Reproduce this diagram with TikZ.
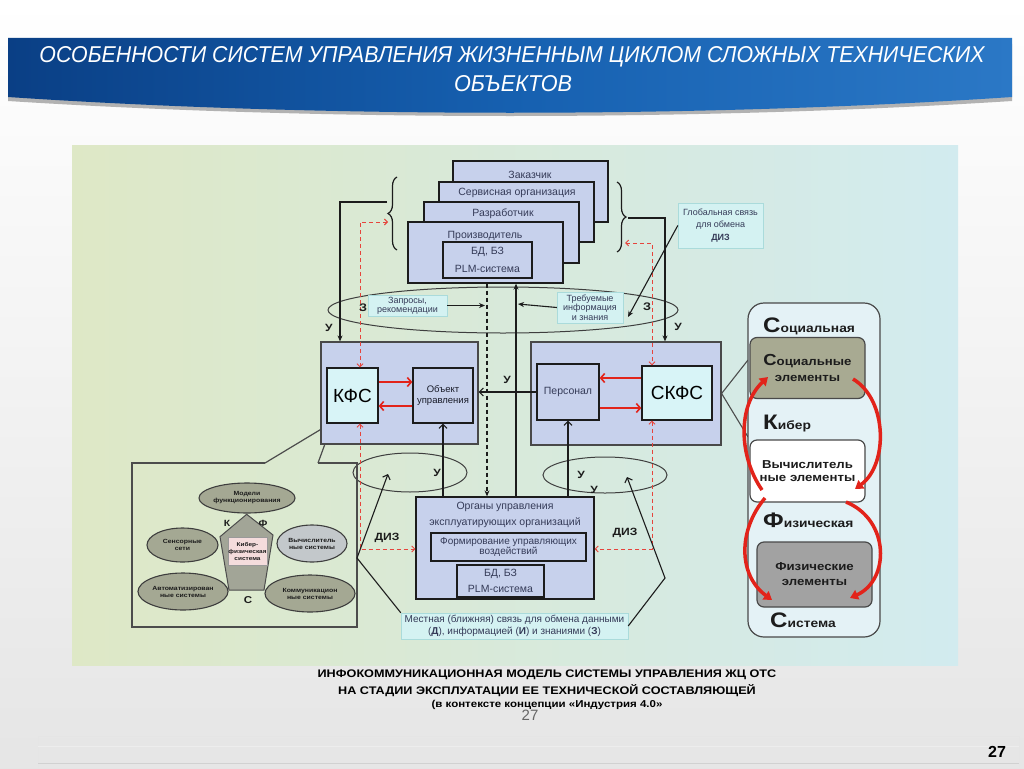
\documentclass[tikz,border=0pt]{standalone}
\usepackage{graphicx}
\usepackage{fontspec}
\setmainfont{Liberation Sans}
\newfontfamily\heavyfont{Liberation Sans}[FakeStretch=1.15]
\usetikzlibrary{arrows.meta,decorations.pathreplacing,shapes.geometric,calc}
\definecolor{boxfill}{HTML}{C7D1EC}
\definecolor{kfsfill}{HTML}{D8F4F7}
\definecolor{lblfill}{HTML}{D4F2F2}
\definecolor{txtc}{HTML}{353B58}
\definecolor{ellfill}{HTML}{A4A893}
\definecolor{ellfill2}{HTML}{C3C8CB}
\definecolor{redc}{HTML}{E2231A}
\definecolor{linec}{HTML}{1C1C1C}
\definecolor{bandA}{HTML}{0A3F85}
\definecolor{bandB}{HTML}{1660B0}
\definecolor{bandC}{HTML}{2B78C6}
\definecolor{panL}{HTML}{DEE8C6}
\definecolor{panR}{HTML}{D2EBEF}
\definecolor{rpfill}{HTML}{E4F2F6}
\definecolor{socfill}{HTML}{A8AA92}
\definecolor{physfill}{HTML}{A2A2A2}
\definecolor{pentfill}{HTML}{A2A597}
\definecolor{pinkfill}{HTML}{F4DCDC}
\newcommand{\fsz}[2]{\fontsize{#1}{#2}\selectfont}
\newcommand{\hv}[2]{\heavyfont\bfseries\fontsize{#1}{#2}\selectfont}
\begin{document}
\begin{tikzpicture}[x=1pt,y=-1pt,
  ln/.style={draw=linec,line width=1.1pt},
  arr/.style={ln,-{Stealth[length=6pt,width=5pt]}},
  barr/.style={ln,-{Straight Barb[length=4pt,width=8pt]}},
  dsh/.style={draw=linec,line width=1.1pt,dash pattern=on 4pt off 3pt},
  rdsh/.style={draw=redc!85,line width=0.9pt,dash pattern=on 4pt off 3pt,{Straight Barb[length=3pt,width=6pt]}-{Straight Barb[length=3pt,width=6pt]}},
  rarr/.style={draw=redc,line width=1.6pt,-{Straight Barb[length=4pt,width=9pt]}},
  stackbox/.style={draw=linec,line width=1.3pt,fill=boxfill,minimum width=155pt,minimum height=61pt,inner sep=0pt},
  grpbox/.style={draw=linec!80,line width=1.2pt,fill=boxfill,inner sep=0pt},
  inbox/.style={draw=linec,line width=1.3pt,fill=boxfill,inner sep=0pt,align=center,text=txtc},
  cbox/.style={draw=linec,line width=1.3pt,fill=kfsfill,inner sep=0pt,font=\fsz{19}{19},text=black},
  blbl/.style={inner sep=0pt,text=txtc,font=\fsz{10.5}{12}},
  lblbox/.style={fill=lblfill,draw=lblfill!80!teal,line width=0.4pt,inner sep=0pt,align=center,text=txtc},
  ltr/.style={inner sep=0pt,font=\hv{10.5}{11},text=linec},
  oval/.style={ellipse,draw=linec!85,line width=1pt,inner sep=0pt},
  pell/.style={ellipse,draw=linec!85,line width=1.1pt,fill=ellfill,inner sep=0pt,align=center,font=\hv{6}{7},text=linec},
  rbox/.style={rounded corners=7pt,draw=linec!80,line width=1.2pt,inner sep=0pt,align=center,text=linec},
  rtxt/.style={inner sep=0pt,text=linec,anchor=base west},
  bigarr/.style={draw=redc,line width=3.5pt,-{Triangle[length=8pt,width=10pt]}}
]
\useasboundingbox (0,0) rectangle (1024,768);
\shade[top color=white,bottom color=black!10] (0,0) rectangle (1024,768);
% header band
\fill[black!30] (8,44) -- (1012,44) -- (1012,101) .. controls (700,121) and (320,121) .. (8,101) -- cycle;
\shade[left color=bandA,right color=bandC,middle color=bandB] (8,38) -- (1012,38) -- (1012,97) .. controls (700,118) and (320,118) .. (8,97) -- cycle;
\node[text=white,inner sep=0pt] (t1) at (512,57) {\resizebox{945pt}{16pt}{\itshape ОСОБЕННОСТИ СИСТЕМ УПРАВЛЕНИЯ ЖИЗНЕННЫМ ЦИКЛОМ СЛОЖНЫХ ТЕХНИЧЕСКИХ}};
\node[text=white,inner sep=0pt] (t2) at (513,84) {\resizebox{118pt}{16pt}{\itshape ОБЪЕКТОВ}};
% footer lines
\draw[black!10,line width=0.8pt] (38,768) -- (38,736) -- (1019,736) -- (1019,768);
\draw[black!7] (38,746) -- (1019,746);
\draw[black!18,line width=1pt] (38,763) -- (1019,763);
% panel
\shade[left color=panL,right color=panR] (72,145) rectangle (958,665);

% stacked boxes
\node[stackbox,minimum height=61pt] (zak) at (530.5,191.5) {};
\node[blbl] (zakT) at (530,175) {Заказчик};
\node[stackbox,minimum height=60pt] (serv) at (516.5,212) {};
\node[blbl] (servT) at (517,192.5) {Сервисная организация};
\node[stackbox,minimum height=61pt] (razr) at (501.5,232.5) {};
\node[blbl] (razrT) at (503,213.5) {Разработчик};
\node[stackbox,minimum height=61pt] (proizv) at (485.5,252.5) {};
\node[blbl] (proizvT) at (485,236) {Производитель};
\node[inbox,minimum width=89pt,minimum height=36pt,font=\fsz{10.5}{18}] (bd1) at (487.5,260) {БД, БЗ\\PLM-система};

% braces
\draw[ln,line width=1.2pt,decorate,decoration={brace,amplitude=9pt}] (397,250) -- (397,177);
\draw[ln,line width=1.2pt,decorate,decoration={brace,amplitude=9pt}] (617,182) -- (617,252);
\coordinate (lbU) at (387,202);
\coordinate (lbD) at (388,222);
\coordinate (rbU) at (628,218);
\coordinate (rbD) at (625,243);

% big ellipse
\node[oval,minimum width=350pt,minimum height=46pt] (elT) at (503,310) {};
% bottom ellipses
\node[oval,minimum width=114pt,minimum height=39pt] (el1) at (410,472.5) {};
\node[oval,minimum width=124pt,minimum height=36pt] (el2) at (605,475) {};

% left bottom panel with callout
\coordinate (kfsc) at (333,422);
\draw[draw=black!70,line width=1.2pt] (265,463) -- (132,463) -- (132,627) -- (357,627) -- (357,463) -- (318,463);
\draw[draw=black!70,line width=1.2pt] (265,463) -- (kfsc) -- (318,463);
\filldraw[fill=pentfill,draw=black!70,line width=1pt] (246.7,514.3) -- (273,535) -- (264,590) -- (229,590) -- (220,536.7) -- cycle;
\node[draw=black!40,fill=pinkfill,minimum width=39pt,minimum height=28pt,inner sep=0pt,align=center,font=\hv{5.6}{7},text=linec] (cps) at (247.5,551) {Кибер-\\физическая\\система};
\node[pell,minimum width=96pt,minimum height=30pt] (pm) at (247,498) {Модели\\функционирования};
\node[pell,minimum width=71pt,minimum height=34pt] (ps) at (182.5,545) {Сенсорные\\сети};
\node[pell,fill=ellfill2,minimum width=70pt,minimum height=37pt] (pv) at (312,543.5) {Вычислитель\\ные системы};
\node[pell,minimum width=90pt,minimum height=37pt] (pa) at (183,591.5) {Автоматизирован\\ные системы};
\node[pell,minimum width=90pt,minimum height=37pt] (pk) at (310,593.5) {Коммуникацион\\ные системы};
\node[ltr,font=\hv{9}{9}] (pK) at (227,523) {К};
\node[ltr,font=\hv{9}{9}] (pF) at (263,523) {Ф};
\node[ltr,font=\hv{10}{10}] (pC) at (248,600) {С};

% groups
\node[grpbox,minimum width=157pt,minimum height=102pt] (kfsout) at (399.5,393) {};
\node[cbox,minimum width=51pt,minimum height=55pt] (kfs) at (352.5,395.5) {КФС};
\node[inbox,minimum width=60pt,minimum height=55pt,font=\fsz{9.5}{11},text=black!55!txtc] (obj) at (443,395.5) {Объект\\управления};
\node[grpbox,minimum width=190pt,minimum height=103pt] (skfsout) at (626,393.5) {};
\node[inbox,minimum width=62pt,minimum height=56pt,font=\fsz{10.5}{12}] (pers) at (568,392) {Персонал};
\node[cbox,minimum width=70pt,minimum height=54pt] (skfs) at (677,393) {СКФС};

% org box
\node[draw=linec,line width=1.3pt,fill=boxfill,minimum width=178pt,minimum height=102pt,inner sep=0pt] (org) at (505,548) {};
\node[blbl] (orgT1) at (505,507) {Органы управления};
\node[blbl] (orgT2) at (505,523) {эксплуатирующих организаций};
\node[inbox,minimum width=155pt,minimum height=28pt,font=\fsz{10}{9}] (form) at (508.5,547) {Формирование управляющих\\воздействий};
\node[inbox,minimum width=87pt,minimum height=32pt,font=\fsz{10.5}{16}] (bd2) at (500.5,581) {БД, БЗ\\PLM-система};

% label boxes
\node[lblbox,minimum width=79pt,minimum height=21pt,font=\fsz{9}{9}] (zapr) at (407.5,305.5) {Запросы,\\рекомендации};
\node[lblbox,minimum width=66pt,minimum height=31pt,font=\fsz{9}{9.5}] (treb) at (590,307.5) {Требуемые\\информация\\и знания};
\node[lblbox,minimum width=85pt,minimum height=45pt,font=\fsz{9}{12.5}] (glob) at (720.5,225.5) {Глобальная связь\\для обмена\\\textbf{ДИЗ}};
\node[lblbox,minimum width=227pt,minimum height=26pt,font=\fsz{10}{12}] (loc) at (514.5,626) {Местная (ближняя) связь для обмена данными\\(\textbf{Д}), информацией (\textbf{И}) и знаниями (\textbf{З})};

% control lines
\draw[arr] (lbU) -- (lbU -| 340,0) -- (kfsout.north -| 340,0);
\draw[arr] (rbU) -- (rbU -| 665,0) -- (skfsout.north -| 665,0);
\draw[rdsh] (lbD) -- (lbD -| 360,0) -- (kfs.north -| 360,0);
\draw[rdsh] (kfs.south -| 360,0) -- (360,549) -- (org.west |- 0,549);
\draw[rdsh] (rbD) -- (rbD -| 652,0) -- (skfs.north -| 652,0);
\draw[rdsh] (skfs.south -| 652,0) -- (652,549) -- (org.east |- 0,549);
\draw[dsh,-{Stealth[length=6pt,width=5pt]}] (proizv.south -| 487,0) -- (org.north -| 487,0);
\draw[arr] (org.north -| 516,0) -- (proizv.south -| 516,0);
\draw[barr] (org.north -| obj.south) -- (obj.south);
\draw[barr] (org.north -| pers.south) -- (pers.south);
\draw[barr] (pers.west) -- (kfsout.east |- pers.west);
% red arrows
\draw[rarr] (kfs.east |- 0,382) -- (obj.west |- 0,382);
\draw[rarr] (obj.west |- 0,406) -- (kfs.east |- 0,406);
\draw[rarr] (skfs.west |- 0,378) -- (pers.east |- 0,378);
\draw[rarr] (pers.east |- 0,408) -- (skfs.west |- 0,408);
% label arrows
\draw[arr] (zapr.east) -- (zapr.east -| 485,0);
\draw[arr] (treb.west) -- (518,304);
\draw[arr] (glob.west) -- (628,317);
\draw[barr] (loc.north west) -- (357,558) -- (388,474);
\draw[barr] (loc.east) -- (665,578) -- (627,477);

% letters
\node[ltr] (u1) at (329,328) {У};
\node[ltr] (u2) at (678,327) {У};
\node[ltr] (u3) at (507,380) {У};
\node[ltr] (u4) at (437,473) {У};
\node[ltr] (u5) at (581,475) {У};
\node[ltr] (u6) at (594,490) {У};
\node[ltr,font=\hv{11}{11}] (z1) at (363,308) {З};
\node[ltr,font=\hv{11}{11}] (z2) at (647,307) {З};
\node[ltr] (d1) at (387,538) {ДИЗ};
\node[ltr] (d2) at (625,533) {ДИЗ};

% right panel
\draw[draw=black!70,line width=1.1pt] (748,360) -- (skfsout.east) -- (748,437);
\node[rbox,rounded corners=16pt,fill=rpfill,minimum width=132pt,minimum height=334pt] (rp) at (814,470) {};
\node[rbox,fill=socfill,minimum width=115pt,minimum height=61pt,font=\hv{11.5}{16}] (soc) at (807.5,368) {{\hv{16}{16}С}оциальные\\элементы};
\node[rbox,fill=white,minimum width=115pt,minimum height=62pt,font=\hv{11.5}{13}] (vych) at (807.5,471) {Вычислитель\\ные элементы};
\node[rbox,fill=physfill,minimum width=115pt,minimum height=65pt,font=\hv{11.5}{15}] (phys) at (814.5,574.5) {Физические\\элементы};
\node[rtxt] (tsoc) at (763,332) {{\hv{21}{21}С}{\hv{12}{12}оциальная}};
\node[rtxt] (tkib) at (763,429) {{\hv{21}{21}К}{\hv{12}{12}ибер}};
\node[rtxt] (tfiz) at (763,527) {{\hv{21}{21}Ф}{\hv{12}{12}изическая}};
\node[rtxt] (tsys) at (770,627) {{\hv{21}{21}С}{\hv{12}{12}истема}};
\draw[bigarr] (762,490) .. controls (738,455) and (738,405) .. (768,377);
\draw[bigarr] (853,379) .. controls (888,400) and (888,465) .. (855,489);
\draw[bigarr] (765,498) .. controls (738,530) and (738,575) .. (772,600);
\draw[bigarr] (846,502) .. controls (890,520) and (890,580) .. (850,598);

% caption
\node[inner sep=0pt,font=\hv{11}{12}] (cap1) at (547,675) {ИНФОКОММУНИКАЦИОННАЯ МОДЕЛЬ СИСТЕМЫ УПРАВЛЕНИЯ ЖЦ ОТС};
\node[inner sep=0pt,font=\hv{11}{12}] (cap2) at (547,691) {НА СТАДИИ ЭКСПЛУАТАЦИИ ЕЕ ТЕХНИЧЕСКОЙ СОСТАВЛЯЮЩЕЙ};
\node[inner sep=0pt,font=\hv{10}{12}] (cap3) at (547,705) {(в контексте концепции «Индустрия 4.0»};
\node[inner sep=0pt,font=\fsz{15}{15},text=black!60] (n27a) at (530,715) {27};
\node[inner sep=0pt,font=\bfseries\fsz{16}{16}] (n27b) at (997,752) {27};
\end{tikzpicture}
\end{document}
